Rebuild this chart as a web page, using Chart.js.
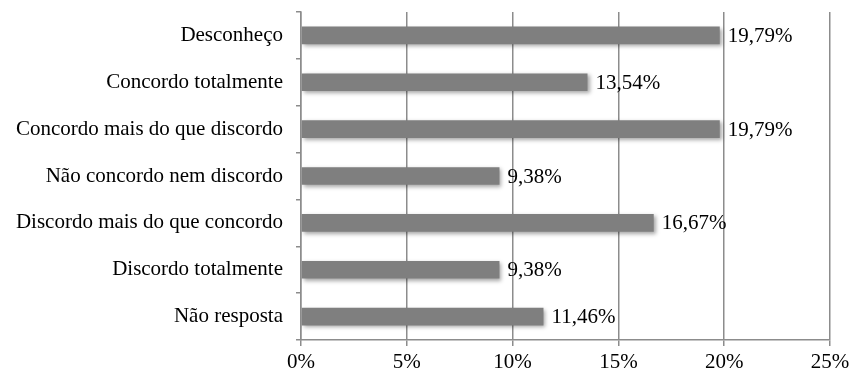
<!DOCTYPE html>
<html lang="pt">
<head>
    <meta charset="UTF-8">
    <title>Respostas</title>
    <script src="https://cdn.jsdelivr.net/npm/chart.js"></script>
    <style>
        body { margin: 0; background: #fff; }
    </style>
</head>
<body>
    <canvas id="chart" width="853" height="379"></canvas>

    <script>
        const categories = [
            'Desconheço',
            'Concordo totalmente',
            'Concordo mais do que discordo',
            'Não concordo nem discordo',
            'Discordo mais do que concordo',
            'Discordo totalmente',
            'Não resposta'
        ];
        const percentages = [19.79, 13.54, 19.79, 9.38, 16.67, 9.38, 11.46];
        const xTicks = [0, 5, 10, 15, 20, 25];

        const FONT = 'Liberation Serif';
        const FONT_SIZE = 21;
        const GRID = '#8c8c8c';

        // shadow under the bars, like the original office chart
        const barShadow = {
            id: 'barShadow',
            beforeDatasetsDraw(chart) {
                const ctx = chart.ctx;
                ctx.save();
                ctx.shadowColor = 'rgba(0,0,0,0.35)';
                ctx.shadowBlur = 4;
                ctx.shadowOffsetX = 2;
                ctx.shadowOffsetY = 2;
            },
            afterDatasetsDraw(chart) {
                chart.ctx.restore();
            }
        };

        // value labels at the end of each bar
        const valueLabels = {
            id: 'valueLabels',
            afterDatasetsDraw(chart) {
                const ctx = chart.ctx;
                const meta = chart.getDatasetMeta(0);
                ctx.save();
                ctx.font = FONT_SIZE + 'px "' + FONT + '"';
                ctx.fillStyle = '#000';
                ctx.textAlign = 'left';
                ctx.textBaseline = 'middle';
                meta.data.forEach((bar, i) => {
                    const txt = percentages[i].toFixed(2).replace('.', ',') + '%';
                    ctx.fillText(txt, bar.x + 8, bar.y + 1);
                });
                ctx.restore();
            }
        };

        new Chart(document.getElementById('chart'), {
            type: 'bar',
            data: {
                labels: categories,
                datasets: [{
                    data: percentages,
                    backgroundColor: '#7f7f7f',
                    barPercentage: 0.8,
                    categoryPercentage: 0.47
                }]
            },
            plugins: [barShadow, valueLabels],
            options: {
                indexAxis: 'y',
                responsive: false,
                animation: false,
                layout: { padding: { top: 12, right: 23, left: 0, bottom: 0 } },
                plugins: {
                    legend: { display: false },
                    tooltip: { enabled: false }
                },
                scales: {
                    x: {
                        min: 0,
                        max: 25,
                        afterBuildTicks(scale) {
                            scale.ticks = xTicks.map(v => ({ value: v }));
                        },
                        afterFit(scale) {
                            scale.height = 39;
                            scale.paddingLeft = 0;
                            scale.paddingRight = 0;
                        },
                        grid: { color: GRID, lineWidth: 1.5, tickLength: 6 },
                        border: { color: GRID, width: 1.5 },
                        ticks: {
                            padding: 4,
                            color: '#000',
                            font: { family: FONT, size: FONT_SIZE },
                            callback: v => v + '%'
                        }
                    },
                    y: {
                        offset: true,
                        afterFit(scale) {
                            scale.width = 301;
                            scale.paddingTop = 0;
                            scale.paddingBottom = 0;
                        },
                        grid: {
                            offset: true,
                            drawOnChartArea: false,
                            color: GRID,
                            lineWidth: 1.5,
                            tickLength: 5
                        },
                        border: { color: GRID, width: 1.5 },
                        ticks: {
                            padding: 13,
                            color: '#000',
                            font: { family: FONT, size: FONT_SIZE }
                        }
                    }
                }
            }
        });
    </script>
</body>
</html>
